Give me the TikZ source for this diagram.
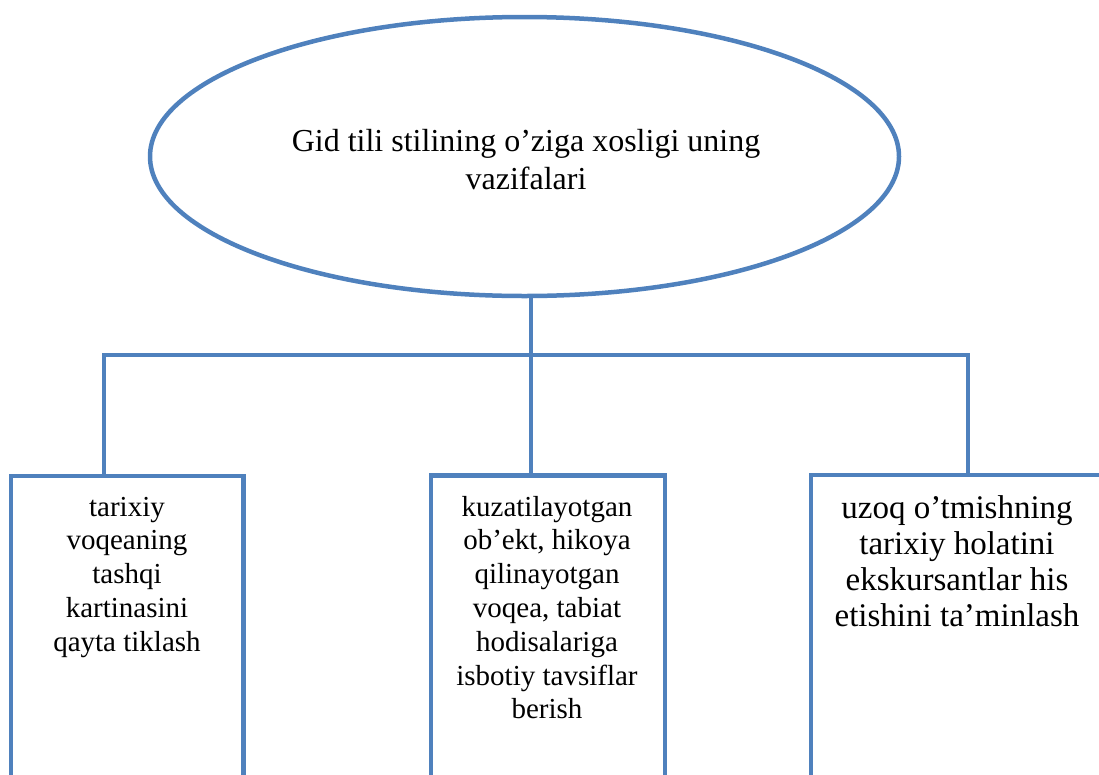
\documentclass[tikz,border=0pt]{standalone}
\usepackage{fontspec}
\setmainfont{Liberation Serif}
\usetikzlibrary{shapes.geometric}
\definecolor{wordblue}{RGB}{79,129,189}
\newcommand{\stackc}[1]{\begin{tabular}[t]{@{}c@{}}#1\end{tabular}}
\begin{document}
\begin{tikzpicture}[x=1pt,y=-1pt,
  outline/.style={draw=wordblue, line width=4.5pt, outer sep=0pt},
  oval/.style={outline, ellipse, inner sep=0pt, minimum width=749pt, minimum height=279pt},
  card/.style={outline, rectangle, inner sep=0pt, anchor=north west, minimum height=340pt},
  wire/.style={draw=wordblue, line width=4.5pt, line join=miter},
  caption/.style={inner sep=0pt, anchor=base}]
\useasboundingbox (0,0) rectangle (1099,774);
\clip (0,0) rectangle (1099,774);
\node[oval] (ell) at (524.5,156.5) {};
\node[card, minimum width=232.7pt] (b1) at (11,476) {};
\node[card, minimum width=234pt] (b2) at (431,475.5) {};
\node[card, minimum width=299pt] (b3) at (811,475) {};
\coordinate (lj) at (104,355);
\coordinate (rj) at (968,355);
\coordinate (mj) at (531,355);
\draw[wire] (lj |- b1.north) -- (lj) -- (rj) -- (rj |- b3.north);
\draw[wire] (mj |- ell.south) -- (mj |- b2.north);
\node[caption, font=\fontsize{32}{38.5}\selectfont] (t0) at (526,151) {\stackc{Gid tili stilining o’ziga xosligi uning\\vazifalari}};
\node[caption, font=\fontsize{29}{33.8}\selectfont] (t1) at (127,516) {\stackc{tarixiy\\voqeaning\\tashqi\\kartinasini\\qayta tiklash}};
\node[caption, font=\fontsize{29}{33.8}\selectfont] (t2) at (547,516) {\stackc{kuzatilayotgan\\ob’ekt, hikoya\\qilinayotgan\\voqea, tabiat\\hodisalariga\\isbotiy tavsiflar\\berish}};
\node[caption, font=\fontsize{33}{36}\selectfont] (t3) at (957,518) {\stackc{uzoq o’tmishning\\tarixiy holatini\\ekskursantlar his\\etishini ta’minlash}};
\end{tikzpicture}
\end{document}
